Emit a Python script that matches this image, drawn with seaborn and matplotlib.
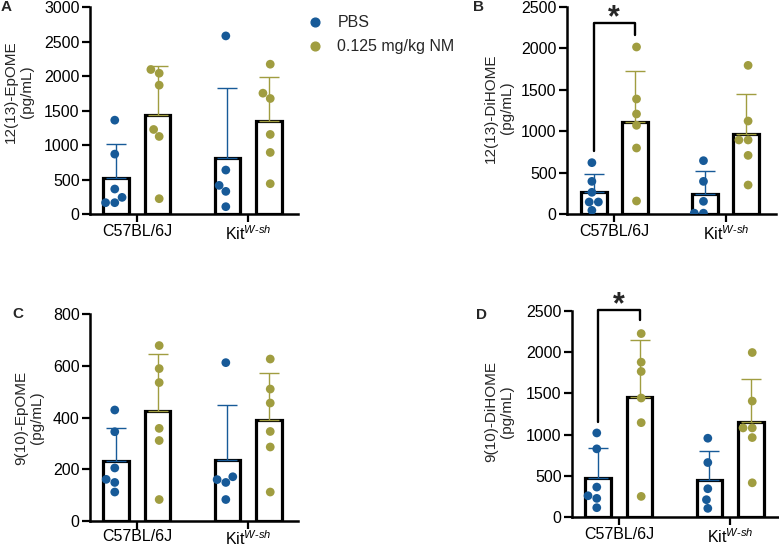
import matplotlib
matplotlib.use("Agg")
import matplotlib.pyplot as plt
from matplotlib.lines import Line2D
import numpy as np
import pandas as pd
import seaborn as sns

strains = ["C57BL/6J", "Kit$^{W\\text{-}sh}$"]
treatments = ["PBS", "0.125 mg/kg NM"]
colors = ["#175a98", "#a09d40"]

# individual animals, per panel: (C57 PBS, C57 NM, Kit PBS, Kit NM)
epome_12 = [
    [1360, 868, 362, 241, 164, 164],
    [2040, 2094, 1867, 1225, 1124, 222],
    [2581, 637, 415, 328, 106],
    [2171, 1751, 1674, 1153, 892, 439],
]
dihome_12 = [
    [620, 394, 262, 145, 145, 44],
    [2017, 1389, 1208, 1071, 797, 157],
    [644, 394, 153, 10, 10],
    [1795, 1123, 894, 894, 708, 350],
]
epome_9 = [
    [429, 345, 205, 161, 149, 112],
    [678, 589, 535, 358, 311, 83],
    [612, 171, 160, 149, 83],
    [626, 510, 456, 346, 286, 112],
]
dihome_9 = [
    [1020, 827, 363, 258, 226, 113],
    [2226, 1879, 1766, 1444, 1145, 250],
    [956, 661, 343, 210, 105],
    [1996, 1407, 1081, 1081, 964, 415],
]

panels = [
    ("A", "12(13)-EpOME\n(pg/mL)", epome_12, [0, 500, 1000, 1500, 2000, 2500, 3000], False),
    ("B", "12(13)-DiHOME\n(pg/mL)", dihome_12, [0, 500, 1000, 1500, 2000, 2500], True),
    ("C", "9(10)-EpOME\n(pg/mL)", epome_9, [0, 200, 400, 600, 800], False),
    ("D", "9(10)-DiHOME\n(pg/mL)", dihome_9, [0, 500, 1000, 1500, 2000, 2500], True),
]

# significance bracket: (top, left leg end, right leg end, star centre)
brackets = {"B": (2307, 757, 2162, 2488), "D": (2516, 1157, 2387, 2690)}

sns.set_theme(style="ticks")
plt.rcParams["font.family"] = ["Liberation Sans", "DejaVu Sans"]
plt.rcParams["mathtext.fontset"] = "custom"
plt.rcParams["mathtext.rm"] = "Liberation Sans"
plt.rcParams["mathtext.it"] = "Liberation Sans:italic"

W, H = 779, 547
fig = plt.figure(figsize=(W / 100, H / 100), dpi=100)

# axes boxes in pixels: left, top, right, bottom
boxes = {
    "A": (90, 7, 298, 214),
    "B": (567, 7, 776, 214),
    "C": (90, 314, 298, 521),
    "D": (572, 311, 780, 517),
}
label_xy = {"A": (34, 92), "B": (514, 108), "C": (44, 418), "D": (514, 412)}
letter_pos = {"A": (1, 7), "B": (473, 7), "C": (12, 314), "D": (476, 315)}
xpad = {"A": 1.5, "B": 1.5, "C": 0.0, "D": 1.5}

DODGE = 0.74  # total width of a dodged pair of bars
FS = 11.5


def build_frame(groups):
    rows = []
    keys = [(0, 0), (0, 1), (1, 0), (1, 1)]
    for (s, t), vals in zip(keys, groups):
        for v in vals:
            rows.append({"strain": strains[s], "treatment": treatments[t], "value": v})
    return pd.DataFrame(rows)


for letter, ylabel, groups, yticks, sig in panels:
    l, t, r, b = boxes[letter]
    ax = fig.add_axes([l / W, 1 - b / H, (r - l) / W, (b - t) / H])
    df = build_frame(groups)

    sns.barplot(
        data=df, x="strain", y="value", hue="treatment",
        order=strains, hue_order=treatments,
        errorbar=None, width=DODGE, gap=0.37,
        palette=["white", "white"],
        edgecolor="black", linewidth=2.3, legend=False, ax=ax,
    )

    stats = df.groupby(["strain", "treatment"], sort=False)["value"].agg(["mean", "std"])
    bars = sorted(ax.patches, key=lambda p: p.get_x())
    order = [(strains[0], treatments[0]), (strains[0], treatments[1]),
             (strains[1], treatments[0]), (strains[1], treatments[1])]
    for i, (bar, key) in enumerate(zip(bars, order)):
        xc = bar.get_x() + bar.get_width() / 2
        m, sd = stats.loc[key, "mean"], stats.loc[key, "std"]
        ax.errorbar(xc, m, yerr=[[0], [sd]], color=colors[i % 2],
                    lw=1.0, capsize=7, capthick=1.0, zorder=2)

    n_before = len(ax.collections)
    sns.swarmplot(
        data=df, x="strain", y="value", hue="treatment",
        order=strains, hue_order=treatments, palette=colors,
        dodge=True, size=6.3, legend=False, zorder=4, ax=ax,
    )
    # swarmplot dodges by a fixed 0.8 width; pull points onto the narrower bars
    for coll in ax.collections[n_before:]:
        off = coll.get_offsets()
        if len(off) == 0:
            continue
        off = np.asarray(off, dtype=float)
        centre = np.round(off[:, 0])
        off[:, 0] = centre + (off[:, 0] - centre) * (DODGE / 0.8)
        coll.set_offsets(off)

    ax.set_xlim(-0.423, 1.45)
    ax.set_ylim(yticks[0], yticks[-1])
    ax.set_yticks(yticks)
    ax.set_xlabel("")
    ax.set_ylabel(ylabel, fontsize=11, linespacing=1.15)
    lx, ly = label_xy[letter]
    ax.yaxis.set_label_coords((lx - l) / (r - l), (b - ly) / (b - t))
    ax.set_xticks([0, 1])
    ax.set_xticklabels(strains)
    for sp in ["left", "bottom"]:
        ax.spines[sp].set_linewidth(1.8)
        ax.spines[sp].set_color("black")
    sns.despine(ax=ax)
    ax.tick_params(axis="both", length=6, width=1.6, color="black",
                   labelsize=FS, labelcolor="black", pad=1.5)
    ax.tick_params(axis="x", pad=xpad[letter])

    if sig:
        top, left_end, right_end, star = brackets[letter]
        x0 = bars[0].get_x() + bars[0].get_width() / 2
        x1 = bars[1].get_x() + bars[1].get_width() / 2
        ax.plot([x0, x0, x1, x1], [left_end, top, top, right_end],
                color="black", lw=1.7, clip_on=False, zorder=5)
        star_fs = 22
        ax.annotate("*", xy=((x0 + x1) / 2, star), xytext=(0, -0.6 * star_fs),
                    textcoords="offset points", ha="center", va="baseline",
                    fontsize=star_fs, fontweight="bold", annotation_clip=False)

    px, py = letter_pos[letter]
    fig.text(px / W, 1 - py / H, letter, fontsize=11, fontweight="bold",
             ha="left", va="center")

handles = [Line2D([], [], marker="o", ls="", color=c, markersize=6.3) for c in colors]
fig.legend(handles, treatments, loc="upper left", bbox_to_anchor=(299 / W, 1 - 9 / H),
           frameon=False, fontsize=FS, handletextpad=0.8, labelspacing=0.55,
           handlelength=1.2, borderaxespad=0)

fig.savefig("out.png", dpi=100)
